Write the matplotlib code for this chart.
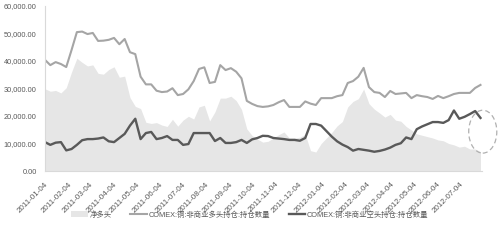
import numpy as np
import pandas as pd
import matplotlib
matplotlib.use('Agg')
import matplotlib.pyplot as plt
import matplotlib.dates as mdates
from matplotlib.patches import Ellipse

plt.rcParams['font.family'] = ['Liberation Sans', 'Noto Sans CJK SC', 'DejaVu Sans']

# weekly COT data, 2011-01-04 .. 2012-07-31
dates = pd.date_range('2011-01-04', periods=83, freq='7D')

long_pos = [40400, 38500, 39600, 38900, 37800, 44000, 50500, 50700, 49800, 50200,
            47300, 47400, 47700, 48400, 46100, 48000, 43200, 42500, 34300, 31500,
            31500, 29200, 28700, 28900, 30100, 27600, 28000, 29700, 32700, 37100,
            37700, 32000, 32400, 38500, 36700, 37400, 36100, 33700, 25500, 24400,
            23600, 23300, 23500, 24000, 25000, 25800, 23300, 23300, 23300, 25300,
            24500, 24000, 26500, 26500, 26500, 27200, 27600, 32000, 32700, 34300,
            37500, 30500, 28700, 28400, 26900, 29100, 28000, 28200, 28400, 26500,
            27600, 27200, 26900, 26200, 27300, 26500, 27200, 28000, 28400, 28400,
            28400, 30200, 31300]

short_pos = [10500, 9500, 10300, 10500, 7500, 8000, 9500, 11200, 11600, 11600,
             11800, 12200, 10800, 10500, 12000, 13500, 16500, 19000, 11600, 13800,
             14200, 11600, 12000, 12700, 11300, 11300, 9500, 9800, 13800, 13800,
             13800, 13800, 10900, 12000, 10200, 10200, 10500, 11300, 10200, 11500,
             12000, 12800, 12700, 12000, 11800, 11600, 11300, 11300, 11000, 12000,
             17100, 17100, 16500, 14500, 12500, 10800, 9600, 8700, 7400, 8000,
             7700, 7400, 7000, 7300, 7800, 8500, 9500, 10100, 12200, 11600,
             15200, 16200, 17000, 17800, 17800, 17500, 18500, 22000, 19000, 19700,
             20700, 21800, 19300]

net_pos = [29900, 29000, 29300, 28400, 30300, 36000, 41000, 39500, 38200, 38600,
           35500, 35200, 36900, 37900, 34100, 34500, 26700, 23500, 22700, 17700,
           17300, 17600, 16700, 16200, 18800, 16300, 18500, 19900, 18900, 23300,
           23900, 18200, 21500, 26500, 26500, 27200, 25600, 22400, 15300, 12900,
           11600, 10500, 10800, 12000, 13200, 14200, 12000, 12000, 12300, 13300,
           7400, 6900, 10000, 12000, 14000, 16400, 18000, 23300, 25300, 26300,
           29800, 24500, 22500, 21100, 19600, 20600, 18500, 18100, 16200, 14900,
           13500, 13000, 12500, 12000, 11300, 11000, 10000, 9500, 8700, 9000,
           8000, 8000, 7000]

labels = ['净多头', 'COMEX:铜:非商业多头持仓:持仓数量', 'COMEX:铜:非商业空头持仓:持仓数量']

fig = plt.figure(figsize=(5, 2.4), dpi=100)
ax = fig.add_axes([0.09, 0.2875, 0.874, 0.6875])

ax.fill_between(dates, 0, net_pos, color='#e6e6e6', lw=0, label=labels[0])
ax.plot(dates, long_pos, color='#a5a5a5', lw=1.5, label=labels[1])
ax.plot(dates, short_pos, color='#595959', lw=1.7, label=labels[2])

# dashed ring round the last few weeks
ell = Ellipse((mdates.date2num(pd.Timestamp('2012-08-03')), 14300), 37, 15600,
              fill=False, ls=(0, (4, 2.5)), lw=0.9, ec='#b0b0b0', clip_on=False)
ax.add_patch(ell)

ax.set_ylim(0, 60000)
ax.set_yticks(np.arange(0, 60001, 10000))
ax.yaxis.set_major_formatter(plt.FuncFormatter(lambda v, p: f'{v:,.2f}'))
ax.set_xlim(pd.Timestamp('2011-01-04'), pd.Timestamp('2012-08-02'))
ax.xaxis.set_major_locator(mdates.MonthLocator(bymonthday=4))
ax.xaxis.set_major_formatter(mdates.DateFormatter('%Y-%m-%d'))

ax.tick_params(axis='y', length=0, pad=6, labelsize=5.3, labelcolor='#595959')
ax.tick_params(axis='x', length=0, pad=7, labelsize=5.8, labelcolor='#595959')
for t in ax.get_xticklabels():
    t.set_rotation(45)
    t.set_ha('right')
    t.set_rotation_mode('anchor')

for s in ['top', 'right']:
    ax.spines[s].set_visible(False)
for s in ['left', 'bottom']:
    ax.spines[s].set_color('#d9d9d9')
    ax.spines[s].set_linewidth(0.8)

fig.legend(loc='center', bbox_to_anchor=(0.5, 0.105), ncol=3, frameon=False,
           fontsize=5.3, labelcolor='#595959', handlelength=2.2, handleheight=0.9,
           columnspacing=2.5, handletextpad=0.3)

fig.savefig('out.png', dpi=100)
